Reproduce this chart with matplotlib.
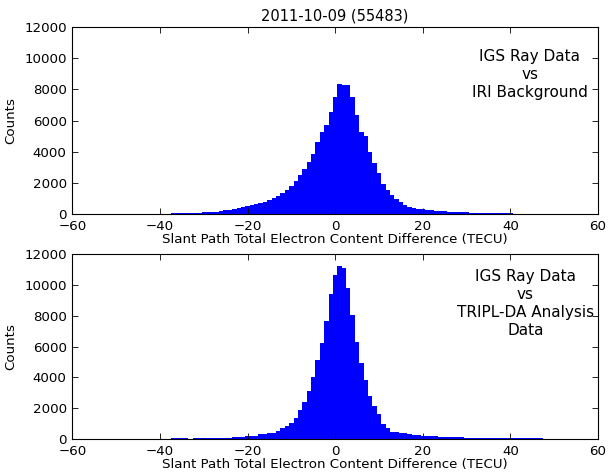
import matplotlib
matplotlib.use("Agg")
import matplotlib.pyplot as plt
import numpy as np

title = "2011-10-09 (55483)"
xlabel = "Slant Path Total Electron Content Difference (TECU)"
ylabel = "Counts"
label_top = "IGS Ray Data\nvs\nIRI Background"
label_bot = "IGS Ray Data\nvs\nTRIPL-DA Analysis\nData"

# bin centers (TECU), bins 1 TECU wide
centers = list(range(-50, 51))

counts_top = [
    15, 18, 15, 20, 22, 18, 25, 20, 28, 25, 30, 28, 32, 35, 40,          # -50..-36
    50, 60, 70, 80, 90, 110, 120, 140, 160, 190, 230, 260, 300, 370, 430,  # -35..-21
    500, 570, 630, 700, 800, 910, 1020, 1130, 1350, 1565, 1780, 2110,      # -20..-9
    2480, 2870, 3350, 3850, 4650, 5260, 5740, 6565, 7540,                  # -8..0
    8350, 8260, 8300, 7540, 6340, 5260, 5000, 3960, 3300, 2610,            # 1..10
    1920, 1565, 1210, 955, 740, 590, 480, 370, 320, 300,                   # 11..20
    280, 230, 215, 200, 170, 160, 150, 140, 130, 100,                      # 21..30
    90, 85, 80, 75, 60, 55, 50, 45, 40, 35,                                # 31..40
    30, 25, 22, 20, 18, 16, 15, 14, 12, 10,                                # 41..50
]

counts_bot = [
    15, 15, 18, 15, 20, 18, 20, 22, 20, 25, 22, 25, 28, 40, 35, 45,        # -50..-35
    40, 30, 35, 40, 45, 45,                                                # -34..-29
    45, 45, 50, 50, 55, 110, 110, 110, 195, 195, 195, 300, 300, 410, 410,  # -28..-14
    520, 690, 865, 1015, 1340, 1880, 2420, 3115, 4045, 5130, 6210, 7660,   # -13..-2
    9390, 10640,                                                           # -1..0
    11230, 11075, 9780, 8050, 6275, 4910, 3830, 2800, 2165, 1600,          # 1..10
    1000, 690, 480, 430, 400, 370, 320, 280, 270, 195,                     # 11..20
    195, 195, 195, 110, 110, 110, 110, 110, 110, 65,                       # 21..30
    65, 65, 65, 65, 65, 65, 65, 65, 65, 40,                                # 31..40
    40, 40, 40, 40, 40, 40, 40, 20, 20, 20,                                # 41..50
]

xticks = [-60, -40, -20, 0, 20, 40, 60]
yticks = [0, 2000, 4000, 6000, 8000, 10000, 12000]

fs = 9.6
plt.rcParams['font.family'] = ['DejaVu Sans']
plt.rcParams['font.size'] = fs

fig = plt.figure(figsize=(6.08, 4.72), dpi=100)
ax1 = fig.add_axes([72.3 / 608, 1 - 214 / 472, (598 - 72.3) / 608, (214 - 27) / 472])
ax2 = fig.add_axes([72.3 / 608, 1 - 439 / 472, (598 - 72.3) / 608, (439 - 254) / 472])

edges = np.arange(centers[0] - 0.5, centers[-1] + 1.0, 1.0)

for ax, counts, lab, lx, ly in ((ax1, counts_top, label_top, 0.870, 0.885),
                                (ax2, counts_bot, label_bot, 0.862, 0.920)):
    ax.stairs(counts, edges, fill=True, color='#0000ff', linewidth=0)
    ax.set_xlim(-60, 60)
    ax.set_ylim(0, 12000)
    ax.set_xticks(xticks)
    ax.set_yticks(yticks)
    ax.tick_params(direction='in', top=True, right=True, length=4, width=0.6,
                   labelsize=fs)
    ax.tick_params(axis='x', pad=4.5)
    ax.tick_params(axis='y', pad=4.0)
    for s in ax.spines.values():
        s.set_linewidth(0.8)
    ax.set_xlabel(xlabel, fontsize=fs, labelpad=0)
    ax.set_ylabel(ylabel, fontsize=fs, labelpad=5)
    ax.text(lx, ly, lab, transform=ax.transAxes, ha='center', va='top',
            fontsize=11, linespacing=1.25)

ax1.set_title(title, fontsize=10.5, pad=5)

fig.savefig("out.png", dpi=100)
